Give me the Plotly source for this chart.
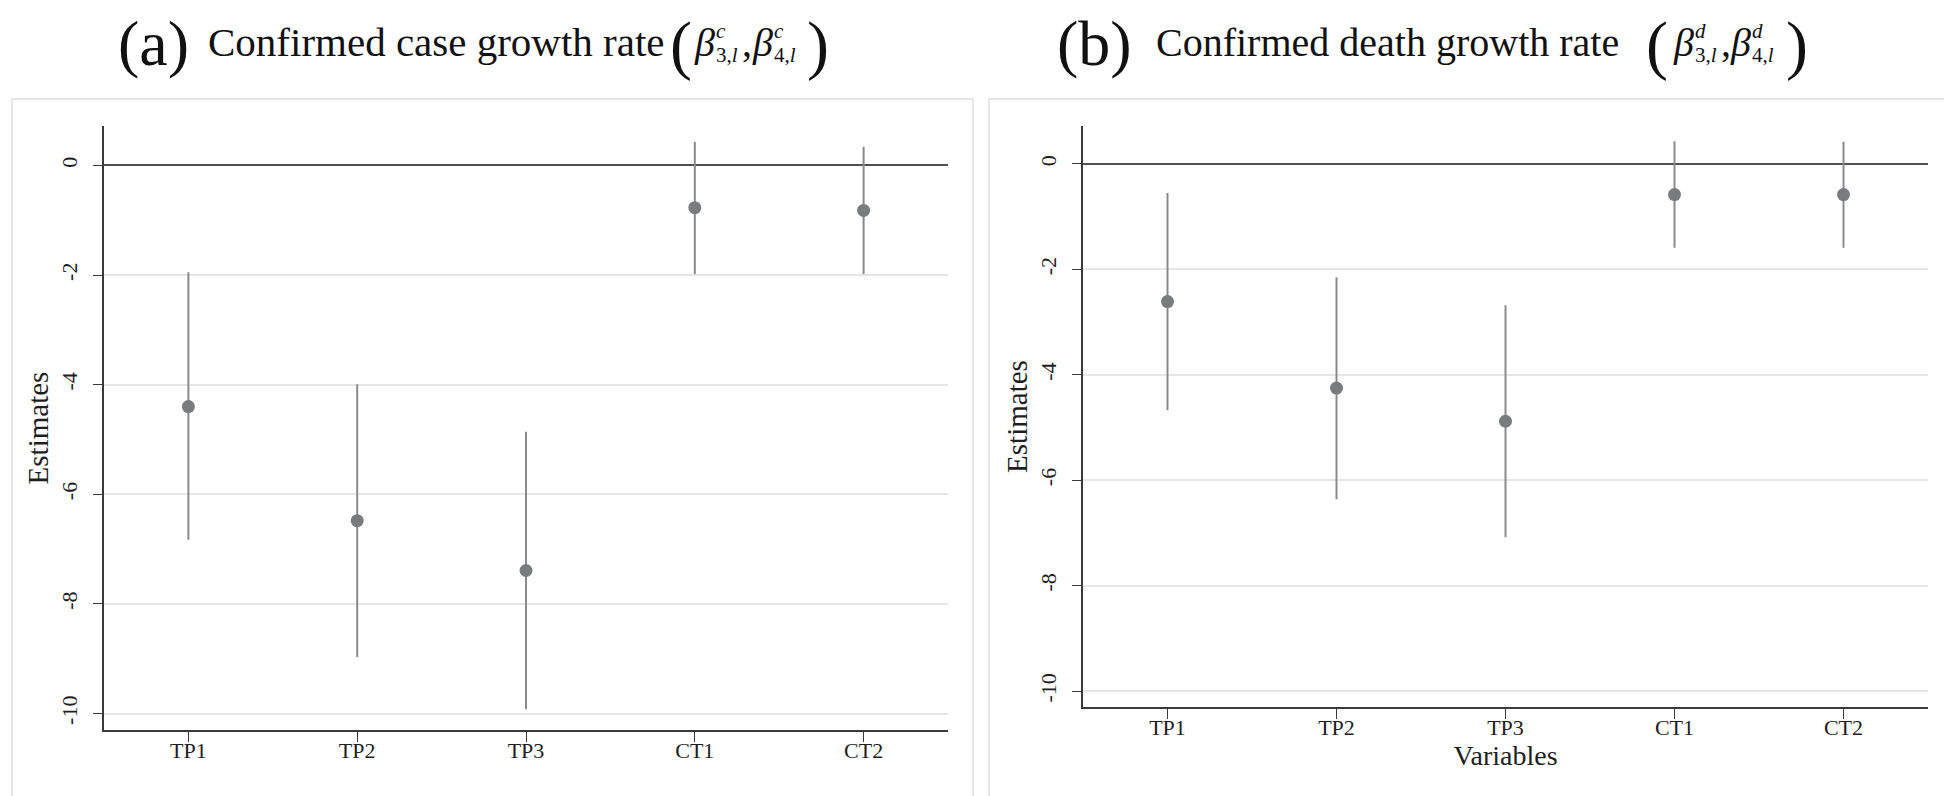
import plotly.graph_objects as go

# ---------------- data ----------------
categories = ["TP1", "TP2", "TP3", "CT1", "CT2"]

case_est = [-4.40, -6.48, -7.39, -0.77, -0.82]
case_lo = [-6.83, -8.97, -9.92, -1.98, -1.98]
case_hi = [-1.95, -3.99, -4.86, 0.43, 0.34]

death_est = [-2.61, -4.25, -4.88, -0.58, -0.58]
death_lo = [-4.67, -6.36, -7.08, -1.59, -1.59]
death_hi = [-0.55, -2.15, -2.68, 0.43, 0.42]

y_ticks = [0, -2, -4, -6, -8, -10]
y_tick_labels = ["0", "-2", "-4", "-6", "-8", "-10"]

# ---------------- layout helpers ----------------
W, H = 1952, 796


def fx(p):
    return p / W


def fy(p):
    return 1 - p / H


SERIF = "Liberation Serif, Times New Roman, serif"
AXIS_COL = "#3a3a3a"
TXT = "#1e1e1e"

fig = go.Figure()

for est, lo, hi, xa, ya in [
    (case_est, case_lo, case_hi, "x", "y"),
    (death_est, death_lo, death_hi, "x2", "y2"),
]:
    fig.add_trace(
        go.Scatter(
            x=categories,
            y=est,
            mode="markers",
            xaxis=xa,
            yaxis=ya,
            marker=dict(size=13, color="#7a7b7d"),
            error_y=dict(
                type="data",
                symmetric=False,
                array=[h - e for h, e in zip(hi, est)],
                arrayminus=[e - l for e, l in zip(est, lo)],
                thickness=2,
                width=0,
                color="#8a8a8c",
            ),
            showlegend=False,
            hoverinfo="skip",
        )
    )


def xaxis_cfg(domain, anchor, title=None):
    d = dict(
        domain=domain,
        anchor=anchor,
        type="category",
        range=[-0.5, 4.5],
        showline=True,
        linecolor=AXIS_COL,
        linewidth=1.5,
        ticks="outside",
        ticklen=10,
        tickwidth=1.3,
        tickcolor=AXIS_COL,
        ticklabelstandoff=-10,
        showgrid=False,
        zeroline=False,
        tickfont=dict(family=SERIF, size=22, color=TXT),
        fixedrange=True,
    )
    if title:
        d["title"] = dict(text=title, font=dict(family=SERIF, size=28, color=TXT), standoff=0)
    return d


def yaxis_cfg(domain, anchor):
    return dict(
        domain=domain,
        anchor=anchor,
        range=[-10.3, 0.72],
        tickmode="array",
        tickvals=y_ticks,
        ticktext=y_tick_labels,
        tickangle=-90,
        showgrid=True,
        gridcolor="#e6e6e6",
        gridwidth=1.5,
        zeroline=True,
        zerolinecolor="#505050",
        zerolinewidth=1.5,
        showline=True,
        linecolor=AXIS_COL,
        linewidth=1.5,
        ticks="outside",
        ticklen=9,
        tickwidth=1.3,
        tickcolor=AXIS_COL,
        ticklabelstandoff=7,
        tickfont=dict(family=SERIF, size=22, color=TXT),
        title=dict(text="Estimates", font=dict(family=SERIF, size=29, color=TXT), standoff=0),
        fixedrange=True,
    )


fig.update_layout(
    width=W,
    height=H,
    margin=dict(l=0, r=0, t=0, b=0),
    paper_bgcolor="white",
    plot_bgcolor="white",
    showlegend=False,
    xaxis=xaxis_cfg([fx(96), fx(940)], "y"),
    yaxis=yaxis_cfg([fy(722), fy(118)], "x"),
    xaxis2=xaxis_cfg([fx(1075), fx(1920)], "y2", title="Variables"),
    yaxis2=yaxis_cfg([fy(699), fy(118)], "x2"),
)

# panel frames
for x0, x1 in [(4, 965), (981, 1945)]:
    fig.add_shape(
        type="rect",
        xref="paper",
        yref="paper",
        x0=fx(x0),
        x1=fx(x1),
        y0=fy(792),
        y1=fy(91),
        line=dict(color="#e6e6e6", width=2),
        fillcolor="rgba(0,0,0,0)",
        layer="below",
    )


# ---------------- titles (built from text pieces) ----------------
def ann(text, x, yc, size, italic=False, anchor="middle"):
    if italic:
        text = "<i>" + text + "</i>"
    fig.add_annotation(
        text=text,
        x=fx(x),
        y=fy(yc),
        xref="paper",
        yref="paper",
        xanchor="left",
        yanchor=anchor,
        showarrow=False,
        font=dict(family=SERIF, size=size, color="#111111"),
        borderpad=0,
        borderwidth=0,
    )


def title_block(label, label_x, body, body_x, body_size, lp_x, beta_xs, rp_x, letter):
    ann(label, label_x, 0.5, 64, anchor="top")
    ann(body, body_x, 34, body_size)
    ann("(", lp_x, 0.5, 66, anchor="top")
    for i, bx in enumerate(beta_xs):
        ann("β", bx, 34, 40, italic=True)
        ann(letter, bx + 22, 23, 21, italic=True)
        ann(f"{3 + i},<i>l</i>", bx + 22, 47, 21)
        if i == 0:
            ann(",", bx + 48, 34, 40)
    ann(")", rp_x, 0.5, 66, anchor="top")


title_block("(a)", 110, "Confirmed case growth rate", 200, 41, 662, [686, 744], 799, "c")
title_block("(b)", 1049, "Confirmed death growth rate", 1148, 40, 1638, [1665, 1722], 1778, "d")

fig.write_html("out.html")
